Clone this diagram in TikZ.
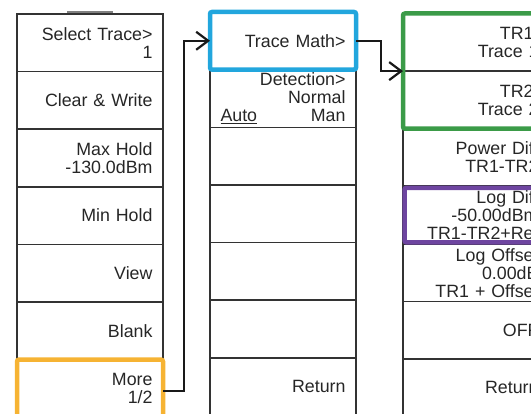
\documentclass[tikz,border=0pt]{standalone}
\usepackage{fontspec}
\setmainfont{Liberation Sans}
\usetikzlibrary{positioning,arrows.meta}

\definecolor{hlorange}{HTML}{F6B333}
\definecolor{hlblue}{HTML}{22A6DD}
\definecolor{hlgreen}{HTML}{3B9B48}
\definecolor{hlpurple}{HTML}{6E45A0}

\tikzset{
	softkey/.style={rectangle, draw=black!80, line width=1.6pt, outer sep=0pt,
		minimum width=146pt, minimum height=57.6pt, text width=125pt, inner xsep=10.5pt,
		align=right, text=black!85, font=\fontsize{17.8}{18}\selectfont},
	hilite/.style={line width=4.5pt, rounded corners=2pt},
	link/.style={draw=black!90, line width=2pt,
		-{Straight Barb[length=12pt,width=18pt,line width=2.2pt]}},
}

\begin{document}
\begin{tikzpicture}[x=1pt,y=1pt,node distance=0pt]
	\clip (0,0) rectangle (531,-414);
	% trace menu
	\draw[black!50, line width=2pt] (67,-12) -- (113,-12);
	\node[softkey] (m1) at (90,-42.8) {Select Trace>\\1};
	\node[softkey, below=of m1] (m2) {Clear \& Write};
	\node[softkey, below=of m2] (m3) {Max Hold\\-130.0dBm};
	\node[softkey, below=of m3] (m4) {Min Hold};
	\node[softkey, below=of m4] (m5) {View};
	\node[softkey, below=of m5] (m6) {Blank};
	\node[softkey, below=of m6] (m7) {More\\1/2};
	% page 2
	\node[softkey] (d1) at (283,-40.8) {Trace Math>};
	\node[softkey, below=of d1] (d2) {Detection>\\Normal\\\underline{Auto}\hfill Man};
	\node[softkey, below=of d2] (d3) {};
	\node[softkey, below=of d3] (d4) {};
	\node[softkey, below=of d4] (d5) {};
	\node[softkey, below=of d5] (d6) {};
	\node[softkey, below=of d6] (d7) {Return};
	% trace math menu
	\node[softkey] (t1) at (476,-42.3) {TR1:\\Trace 1};
	\node[softkey, below=of t1] (t2) {TR2:\\Trace 2};
	\node[softkey, below=of t2] (t3) {Power Diff\\TR1-TR2};
	\node[softkey, below=of t3] (t4) {Log Diff\\-50.00dBm\\TR1-TR2+Ref};
	\node[softkey, below=of t4] (t5) {Log Offset\\0.00dB\\TR1 + Offset};
	\node[softkey, below=of t5] (t6) {OFF};
	\node[softkey, below=of t6] (t7) {Return};

	\draw[hilite, hlorange] (m7.north west) rectangle (m7.south east);
	\draw[hilite, hlblue] (d1.north west) rectangle (d1.south east);
	\draw[hilite, hlgreen] (t1.north west) rectangle (t2.south east);
	\draw[hilite, hlpurple] ([shift={(1.5,-1.5)}]t4.north west) rectangle ([shift={(-1.5,1.5)}]t4.south east);

	\draw[link] ([yshift=-2.5]m7.east) -- ++(21,0) |- (d1.west);
	\draw[link] (d1.east) -- ++(25,0) |- (t1.south west);
\end{tikzpicture}
\end{document}
